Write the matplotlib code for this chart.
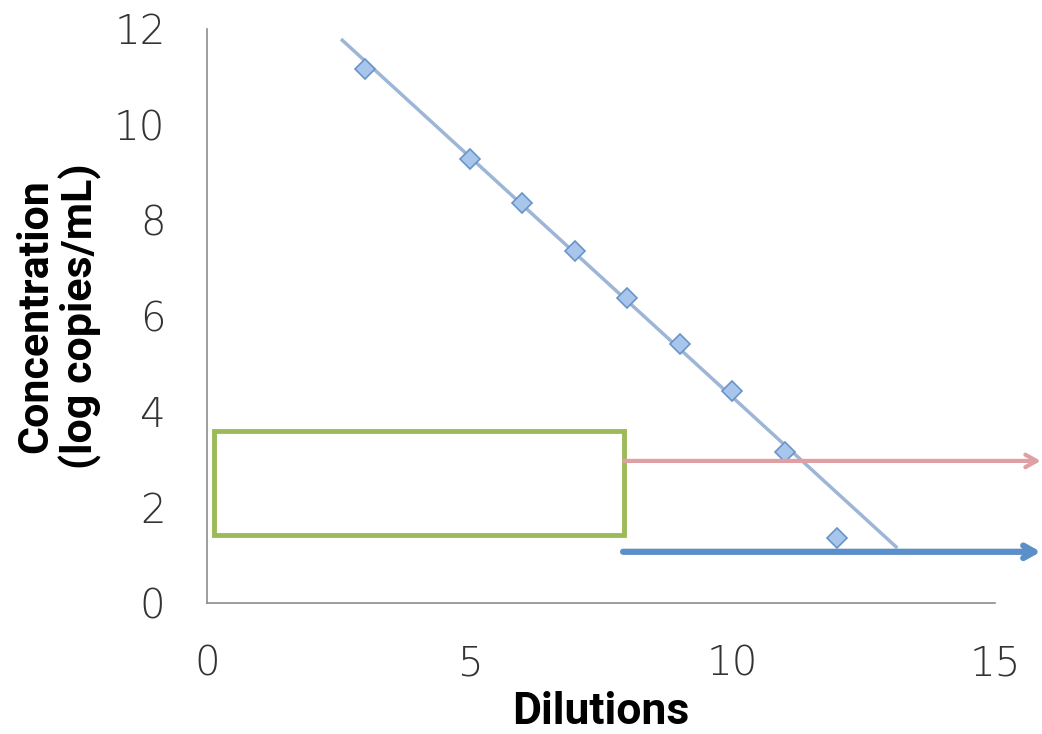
import matplotlib.pyplot as plt
from matplotlib.patches import Rectangle

# Data
dilutions = [3, 5, 6, 7, 8, 9, 10, 11, 12]
concentration = [11.16, 9.28, 8.36, 7.36, 6.38, 5.41, 4.43, 3.16, 1.36]

# Trend line ends (extended Excel trendline)
trend_x = [2.55, 13.14]
trend_y = [11.79, 1.15]

# Annotation shapes (data coordinates)
box_x = [0.13, 7.94]
box_y = [1.42, 3.60]
red_arrow_x = [7.94, 15.87]
red_arrow_y = 2.97
blue_arrow_x = [7.92, 15.87]
blue_arrow_y = 1.07

label_font = ['Roboto', 'DejaVu Sans']
tick_font = ['DejaVu Sans']

fig = plt.figure(figsize=(10.42, 7.34), dpi=100)
ax = fig.add_axes([0.1987, 0.1785, 0.7562, 0.782])

ax.plot(trend_x, trend_y, color='#9db5d6', lw=2.5, solid_capstyle='butt', zorder=2)
ax.plot(dilutions, concentration, linestyle='none', marker='D', markersize=10,
        markerfacecolor='#a8c6ec', markeredgecolor='#6a94c8', markeredgewidth=1.2, zorder=3)

ax.add_patch(Rectangle((box_x[0], box_y[0]), box_x[1] - box_x[0], box_y[1] - box_y[0],
                       fill=False, edgecolor='#9bbb59', lw=3.5, zorder=4))

ax.annotate('', xy=(red_arrow_x[1], red_arrow_y), xytext=(red_arrow_x[0], red_arrow_y),
            xycoords='data', annotation_clip=False,
            arrowprops=dict(arrowstyle='->,head_length=0.8,head_width=0.45', color='#e0a0a3',
                            lw=3, shrinkA=0, shrinkB=0), zorder=4)
ax.annotate('', xy=(blue_arrow_x[1], blue_arrow_y), xytext=(blue_arrow_x[0], blue_arrow_y),
            xycoords='data', annotation_clip=False,
            arrowprops=dict(arrowstyle='->,head_length=0.8,head_width=0.45', color='#5b8fc9',
                            lw=4.5, shrinkA=0, shrinkB=0), zorder=4)

ax.set_xlim(0, 15)
ax.set_ylim(0, 12)
ax.set_xticks([0, 5, 10, 15])
ax.set_yticks([0, 2, 4, 6, 8, 10, 12])

for s in ['top', 'right']:
    ax.spines[s].set_visible(False)
for s in ['left', 'bottom']:
    ax.spines[s].set_color('#8c8c8c')
    ax.spines[s].set_linewidth(1.2)

ax.tick_params(length=0, labelsize=29, labelcolor='#333333')
ax.tick_params(axis='x', pad=30)
ax.tick_params(axis='y', pad=30)
for lab in ax.get_xticklabels() + ax.get_yticklabels():
    lab.set_family(tick_font)
    lab.set_fontweight('light')

ax.set_xlabel('Dilutions', family=label_font, fontweight='bold', fontsize=32, labelpad=5)
ax.set_ylabel('Concentration\n(log copies/mL)', family=label_font, fontweight='bold',
              fontsize=31, linespacing=1.05, labelpad=9)

fig.savefig('out.png', dpi=100)
